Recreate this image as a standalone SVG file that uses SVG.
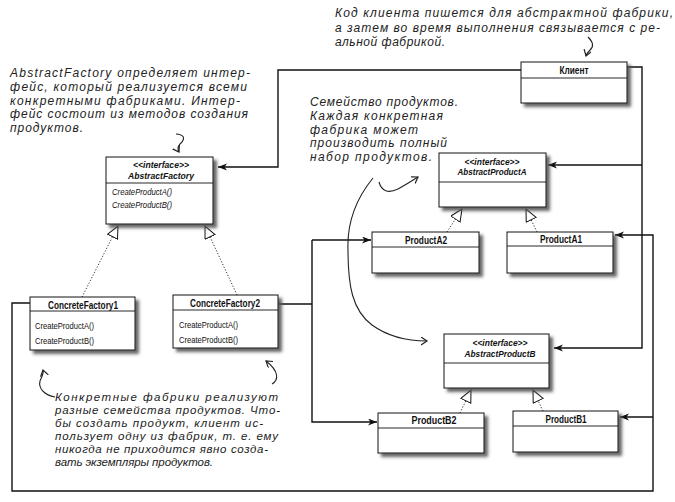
<svg xmlns="http://www.w3.org/2000/svg" width="675" height="502" viewBox="0 0 675 502">
<defs>
<filter id="sh" x="-10%" y="-10%" width="130%" height="140%">
<feDropShadow dx="3.5" dy="3.5" stdDeviation="1.6" flood-color="#555" flood-opacity="0.9"/>
</filter>
<marker id="arr" markerWidth="10" markerHeight="8" refX="9" refY="3.5" orient="auto" markerUnits="userSpaceOnUse">
<path d="M0,0 L9,3.5 L0,7 L2.5,3.5 z" fill="#111"/>
</marker>
<marker id="tri" markerWidth="14" markerHeight="13" refX="12.5" refY="6" orient="auto" markerUnits="userSpaceOnUse">
<path d="M0.5,0.5 L12.5,6 L0.5,11.5 z" fill="#fff" stroke="#111" stroke-width="1"/>
</marker>
<marker id="hand" markerWidth="10" markerHeight="10" refX="6" refY="4" orient="auto" markerUnits="userSpaceOnUse">
<path d="M0,0 L6,4 L0,8" fill="none" stroke="#222" stroke-width="1.2"/>
</marker>
</defs>
<style>
.box{fill:#fff;stroke:#111;stroke-width:1;filter:url(#sh)}
.sep{stroke:#111;stroke-width:0.9}
.conn{fill:none;stroke:#111;stroke-width:1.4}
.real{fill:none;stroke:#333;stroke-width:1;stroke-dasharray:1.2 1.8}
.curve{fill:none;stroke:#222;stroke-width:1.1}
.hand{font-family:"Liberation Sans",Arial,sans-serif;font-style:italic;font-size:12px;fill:#222}
.hs{font-size:11.5px}
.t{font-family:"Liberation Sans",Arial,sans-serif;font-size:10px;font-weight:bold;text-anchor:middle;fill:#111}
.st{font-family:"Liberation Sans",Arial,sans-serif;font-size:8.5px;font-style:italic;font-weight:bold;text-anchor:middle;fill:#111}
.it{font-family:"Liberation Sans",Arial,sans-serif;font-size:9.5px;font-style:italic;font-weight:bold;text-anchor:middle;fill:#111}
.m{font-family:"Liberation Sans",Arial,sans-serif;font-size:9px;fill:#111}
.mi{font-family:"Liberation Sans",Arial,sans-serif;font-size:9px;font-style:italic;fill:#111}
</style>

<g id="connectors">
<path class="conn" d="M521,70 H278 V167 H218" marker-end="url(#arr)"/>
<path class="conn" d="M627,67 H642 V348 H554" marker-end="url(#arr)"/>
<path class="conn" d="M642,165 H548" marker-end="url(#arr)"/>
<path class="conn" d="M30,303 H12 V491 H653 V235 H615" marker-end="url(#arr)"/>
<path class="conn" d="M653,417 H620" marker-end="url(#arr)"/>
<path class="conn" d="M278,304 H312"/>
<path class="conn" d="M312,240 V422 H377" marker-end="url(#arr)"/>
<path class="conn" d="M312,240 H371" marker-end="url(#arr)"/>
<path class="real" d="M82,297 L118,226" marker-end="url(#tri)"/>
<path class="real" d="M237,295 L205,226" marker-end="url(#tri)"/>
<path class="real" d="M447,232 L462,209" marker-end="url(#tri)"/>
<path class="real" d="M537,232 L526,209" marker-end="url(#tri)"/>
<path class="real" d="M460,413 L471,390" marker-end="url(#tri)"/>
<path class="real" d="M543,411 L533,390" marker-end="url(#tri)"/>
</g>

<g id="client">
<rect class="box" x="521" y="62" width="106" height="41"/>
<line class="sep" x1="521" y1="78" x2="627" y2="78"/>
<text class="t" x="574" y="74" textLength="29" lengthAdjust="spacingAndGlyphs">Клиент</text>
</g>

<g id="abstract-factory">
<rect class="box" x="106" y="157" width="107" height="67"/>
<line class="sep" x1="106" y1="183" x2="213" y2="183"/>
<text class="st" x="161" y="168" textLength="56" lengthAdjust="spacingAndGlyphs">&lt;&lt;interface&gt;&gt;</text>
<text class="it" x="161" y="179" textLength="66" lengthAdjust="spacingAndGlyphs">AbstractFactory</text>
<text class="mi" x="112" y="195" textLength="60" lengthAdjust="spacingAndGlyphs">CreateProductA()</text>
<text class="mi" x="112" y="208" textLength="60" lengthAdjust="spacingAndGlyphs">CreateProductB()</text>
</g>

<g id="concrete-factory-1">
<rect class="box" x="30" y="297" width="105" height="53"/>
<line class="sep" x1="30" y1="311" x2="135" y2="311"/>
<text class="t" x="83" y="309" textLength="70" lengthAdjust="spacingAndGlyphs">ConcreteFactory1</text>
<text class="m" x="35" y="329" textLength="59" lengthAdjust="spacingAndGlyphs">CreateProductA()</text>
<text class="m" x="35" y="344" textLength="59" lengthAdjust="spacingAndGlyphs">CreateProductB()</text>
</g>

<g id="concrete-factory-2">
<rect class="box" x="173" y="295" width="105" height="53"/>
<line class="sep" x1="173" y1="310" x2="278" y2="310"/>
<text class="t" x="225" y="307" textLength="70" lengthAdjust="spacingAndGlyphs">ConcreteFactory2</text>
<text class="m" x="179" y="328" textLength="59" lengthAdjust="spacingAndGlyphs">CreateProductA()</text>
<text class="m" x="179" y="343" textLength="59" lengthAdjust="spacingAndGlyphs">CreateProductB()</text>
</g>

<g id="abstract-product-a">
<rect class="box" x="439" y="153" width="107" height="54"/>
<line class="sep" x1="439" y1="182" x2="546" y2="182"/>
<text class="st" x="492" y="165" textLength="55" lengthAdjust="spacingAndGlyphs">&lt;&lt;interface&gt;&gt;</text>
<text class="it" x="492" y="175" textLength="69" lengthAdjust="spacingAndGlyphs">AbstractProductA</text>
</g>

<g id="product-a2">
<rect class="box" x="372" y="232" width="107" height="41"/>
<line class="sep" x1="372" y1="247" x2="479" y2="247"/>
<text class="t" x="426" y="244" textLength="42" lengthAdjust="spacingAndGlyphs">ProductA2</text>
</g>

<g id="product-a1">
<rect class="box" x="507" y="232" width="106" height="41"/>
<line class="sep" x1="507" y1="246" x2="613" y2="246"/>
<text class="t" x="561" y="243" textLength="42" lengthAdjust="spacingAndGlyphs">ProductA1</text>
</g>

<g id="abstract-product-b">
<rect class="box" x="444" y="334" width="105" height="54"/>
<line class="sep" x1="444" y1="363" x2="549" y2="363"/>
<text class="st" x="500" y="346" textLength="55" lengthAdjust="spacingAndGlyphs">&lt;&lt;interface&gt;&gt;</text>
<text class="it" x="500" y="357" textLength="71" lengthAdjust="spacingAndGlyphs">AbstractProductB</text>
</g>

<g id="product-b2">
<rect class="box" x="378" y="413" width="106" height="40"/>
<line class="sep" x1="378" y1="428" x2="484" y2="428"/>
<text class="t" x="434" y="424" textLength="45" lengthAdjust="spacingAndGlyphs">ProductB2</text>
</g>

<g id="product-b1">
<rect class="box" x="513" y="411" width="105" height="41"/>
<line class="sep" x1="513" y1="426" x2="618" y2="426"/>
<text class="t" x="566" y="423" textLength="41" lengthAdjust="spacingAndGlyphs">ProductB1</text>
</g>

<g id="note-abstract-factory">
<text class="hand" x="10" y="77" textLength="240" lengthAdjust="spacing">AbstractFactory определяет интер-</text>
<text class="hand" x="10" y="90.75" textLength="237" lengthAdjust="spacing">фейс, который реализуется всеми</text>
<text class="hand" x="10" y="104.5" textLength="230" lengthAdjust="spacing">конкретными фабриками. Интер-</text>
<text class="hand" x="10" y="118.25" textLength="238" lengthAdjust="spacing">фейс состоит из методов создания</text>
<text class="hand" x="10" y="132" textLength="73" lengthAdjust="spacing">продуктов.</text>
<path class="curve" d="M176,134 Q187,135 182,142 Q176,147 179,152" marker-end="url(#hand)"/>
</g>

<g id="note-client">
<text class="hand" x="335" y="17" textLength="338" lengthAdjust="spacing">Код клиента пишется для абстрактной фабрики,</text>
<text class="hand" x="335" y="32" textLength="325" lengthAdjust="spacing">а затем во время выполнения связывается с ре-</text>
<text class="hand" x="335" y="46" textLength="110" lengthAdjust="spacing">альной фабрикой.</text>
<path class="curve" d="M588,37 Q596,45 590,50 Q587,53 586,56" marker-end="url(#hand)"/>
</g>

<g id="note-family">
<text class="hand" x="310" y="106" textLength="148" lengthAdjust="spacing">Семейство продуктов.</text>
<text class="hand" x="310" y="119.75" textLength="133" lengthAdjust="spacing">Каждая конкретная</text>
<text class="hand" x="310" y="133.5" textLength="108" lengthAdjust="spacing">фабрика может</text>
<text class="hand" x="310" y="147.25" textLength="137" lengthAdjust="spacing">производить полный</text>
<text class="hand" x="310" y="161" textLength="122" lengthAdjust="spacing">набор продуктов.</text>
<path class="curve" d="M379,182 Q383,196 398,189 Q407,184 418,177" marker-end="url(#hand)"/>
<path class="curve" d="M373,178 C355,200 347,225 348,250 C348,285 352,310 372,325 C390,338 410,341 427,341" marker-end="url(#hand)"/>
</g>

<g id="note-concrete">
<text class="hand hs" x="55" y="401" textLength="223" lengthAdjust="spacing">Конкретные фабрики реализуют</text>
<text class="hand hs" x="55" y="414" textLength="225" lengthAdjust="spacing">разные семейства продуктов. Что-</text>
<text class="hand hs" x="55" y="427" textLength="208" lengthAdjust="spacing">бы создать продукт, клиент ис-</text>
<text class="hand hs" x="55" y="440" textLength="223" lengthAdjust="spacing">пользует одну из фабрик, т. е. ему</text>
<text class="hand hs" x="55" y="453" textLength="213" lengthAdjust="spacing">никогда не приходится явно созда-</text>
<text class="hand hs" x="55" y="466" textLength="158" lengthAdjust="spacing">вать экземпляры продуктов.</text>
<path class="curve" d="M55,397 C45,395 38,389 40,381 C42,376 44,374 43,370" marker-end="url(#hand)"/>
<path class="curve" d="M272,384 C279,380 279,371 266,361" marker-end="url(#hand)"/>
</g>
</svg>
